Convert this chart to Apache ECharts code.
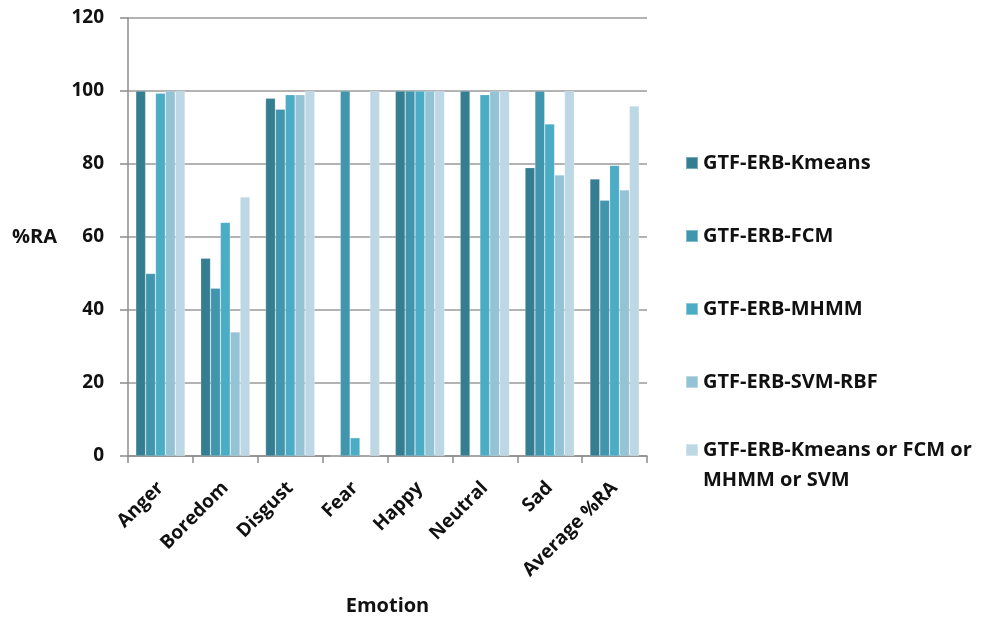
<!DOCTYPE html>
<html>
<head>
<meta charset="utf-8">
<script src="https://cdn.jsdelivr.net/npm/echarts@6/dist/echarts.min.js"></script>
<style>
  html, body { margin: 0; padding: 0; background: #fff; }
  #chart { width: 989px; height: 621px; }
</style>
</head>
<body>
<div id="chart"></div>
<script>
// Recognition accuracy (%RA) per emotion for each GTF-ERB variant
const emotions = ['Anger', 'Boredom', 'Disgust', 'Fear', 'Happy', 'Neutral', 'Sad', 'Average %RA'];
const seriesNames = [
  'GTF-ERB-Kmeans',
  'GTF-ERB-FCM',
  'GTF-ERB-MHMM',
  'GTF-ERB-SVM-RBF',
  'GTF-ERB-Kmeans or FCM or MHMM or SVM'
];
const kmeans   = [100, 54.2, 98, 0, 100, 100, 79, 75.9];
const fcm      = [50, 46, 95, 100, 100, 0, 100, 70.1];
const mhmm     = [99.4, 64, 99, 5, 100, 99, 91, 79.6];
const svmRbf   = [100, 34, 99, 0, 100, 100, 77, 72.9];
const combined = [100, 71, 100, 100, 100, 100, 100, 95.9];
const yTicks = [0, 20, 40, 60, 80, 100, 120];

const values = [kmeans, fcm, mhmm, svmRbf, combined];
const colors = ['#357e92', '#4196ad', '#4bacc6', '#93c3d5', '#bdd8e4'];
const FONT = '"Open Sans"';
const textColor = '#111';
const axisGrey = '#8c8c8c';

const chart = echarts.init(document.getElementById('chart'), null, { renderer: 'canvas' });

const boldText = (size) => ({
  fontFamily: FONT, fontWeight: 'bold', fontSize: size, color: textColor
});

chart.setOption({
  animation: false,
  backgroundColor: '#fff',
  color: colors,
  grid: { left: 128, right: 342, top: 18, bottom: 165, containLabel: false, outerBoundsMode: 'none' },
  legend: [
    {
      data: seriesNames.slice(0, 4),
      orient: 'vertical',
      left: 685, top: 151,
      padding: 0,
      itemWidth: 12, itemHeight: 12, itemGap: 49,
      icon: 'rect',
      textStyle: Object.assign({ lineHeight: 24 }, boldText(20))
    },
    {
      // long label wraps onto a second line, first line level with the swatch
      data: seriesNames.slice(4),
      orient: 'vertical',
      left: 685, top: 405,
      padding: 0,
      itemWidth: 12, itemHeight: 12,
      icon: 'rect',
      formatter: n => '\n' + n.replace(' MHMM', '\nMHMM'),
      textStyle: Object.assign({ lineHeight: 30 }, boldText(20))
    }
  ],
  xAxis: {
    type: 'category',
    data: emotions,
    name: 'Emotion',
    nameLocation: 'middle',
    nameGap: 140,
    nameTextStyle: boldText(20),
    axisLine: { lineStyle: { color: axisGrey, width: 1.5 } },
    axisTick: { show: true, length: 7, lineStyle: { color: axisGrey, width: 1.5 } },
    axisLabel: Object.assign({ rotate: 45, margin: 29, interval: 0 }, boldText(19))
  },
  yAxis: {
    type: 'value',
    min: 0, max: 120, interval: 20,
    name: '%RA',
    nameLocation: 'middle',
    nameRotate: 0,
    nameGap: 71,
    nameTextStyle: boldText(20),
    axisLine: { show: true, lineStyle: { color: axisGrey, width: 1.5 } },
    axisTick: { show: true, length: 8, lineStyle: { color: axisGrey, width: 1.5 } },
    axisLabel: Object.assign({
      margin: 24,
      formatter: v => yTicks.includes(v) ? String(v) : ''
    }, boldText(19)),
    splitLine: { lineStyle: { color: '#9a9a9a', width: 1.5 } }
  },
  series: seriesNames.map((name, i) => ({
    name,
    type: 'bar',
    data: values[i],
    barGap: '0%',
    barCategoryGap: '24%',
    itemStyle: { color: colors[i], borderColor: 'rgba(255,255,255,0.35)', borderWidth: 0.6 }
  }))
});
</script>
</body>
</html>
